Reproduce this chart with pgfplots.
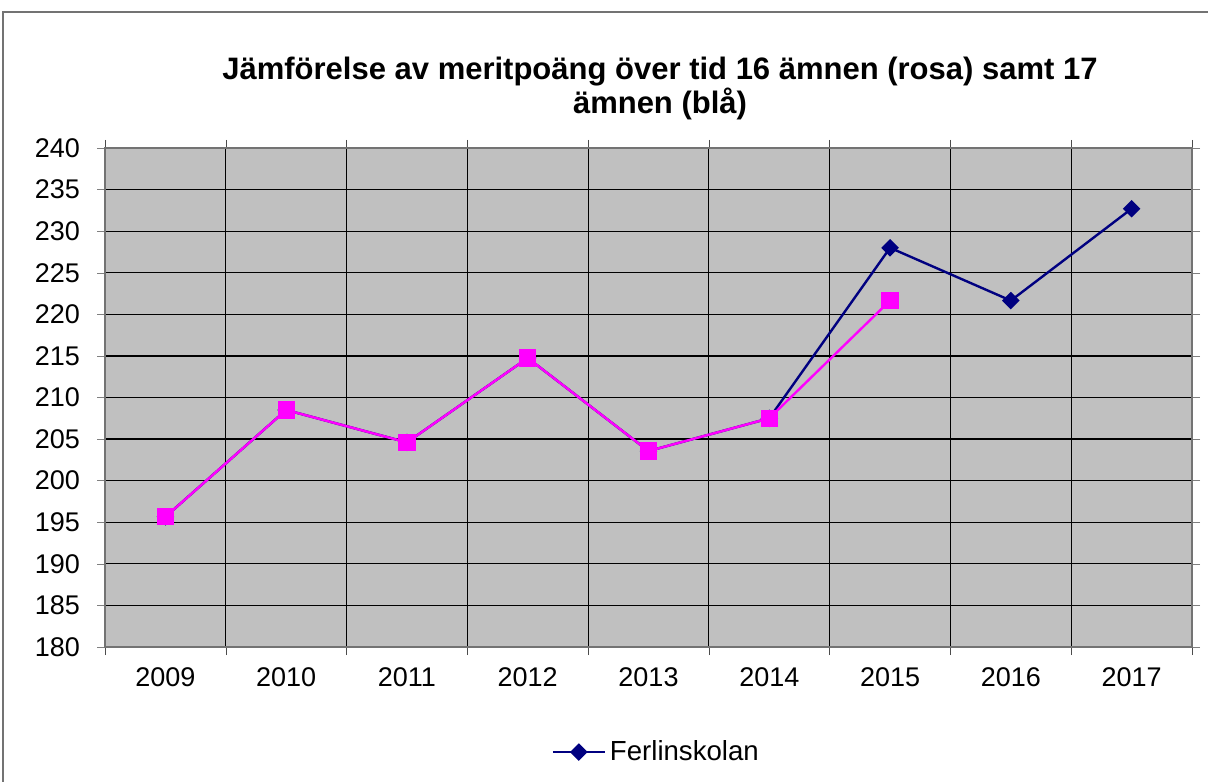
\documentclass[border=0pt]{standalone}
\usepackage{pgfplots}
\pgfplotsset{compat=1.18}
\usepackage{fontspec}
\setmainfont{Liberation Sans}
\definecolor{navyb}{HTML}{000080}
\definecolor{pinkm}{HTML}{FF00FF}
\definecolor{plotbg}{HTML}{C0C0C0}
\begin{document}
\begin{tikzpicture}[x=0.5pt,y=0.5pt]
\begin{scope}
\clip (0,0) rectangle (1208,781);
\draw[color=black!55, line width=1pt] (3,769) rectangle (1220,-20);
\end{scope}
\node[font=\fontsize{15.5pt}{17pt}\selectfont\bfseries, align=center] at (660,693) {Jämförelse av meritpoäng över tid 16 ämnen (rosa) samt 17\\ämnen (blå)};
\begin{axis}[
  at={(52.5pt,67pt)}, anchor=south west,
  scale only axis, width=543.5pt, height=249.5pt,
  xmin=-0.5, xmax=8.5, ymin=180, ymax=240,
  xtick={0,...,8},
  xticklabels={2009,2010,2011,2012,2013,2014,2015,2016,2017},
  minor xtick={-0.5,0.5,...,8.5},
  ytick={180,185,...,240},
  major x tick style={draw=none},
  minor x tick style={draw=black!70},
  tick align=outside,
  major tick length=4pt, minor tick length=4pt,
  xmajorgrids=false, xminorgrids=true, ymajorgrids=true,
  grid style={black, line width=0.6pt},
  minor grid style={black, line width=0.6pt},
  axis line style={draw=black!55, line width=0.8pt},
  axis background/.style={fill=plotbg},
  tick label style={font=\fontsize{13.5pt}{16pt}\selectfont},
  yticklabel style={xshift=-5pt},
  xticklabel style={yshift=-3pt},
  /pgf/number format/assume math mode=true,
  legend style={at={(0.508,-0.2105)}, anchor=center, draw=none, fill=none, font=\fontsize{13.8pt}{16pt}\selectfont},
  legend cell align=left,
  legend image code/.code={
    \draw[#1, mark=none] (0pt,0pt) -- (26pt,0pt);
    \draw[#1, only marks] plot coordinates {(13pt,0pt)};
  },
  clip=false,
]
\addplot[color=navyb, line width=1.2pt, mark=square*, mark size=2.5pt, mark options={fill=navyb, rotate=45, solid}] coordinates {
(0,195.65) (1,208.5) (2,204.6) (3,214.75) (4,203.56) (5,207.5) (6,228.0) (7,221.65) (8,232.7)};
\addlegendentry{Ferlinskolan}
\addplot[color=pinkm, line width=1.2pt, mark=square*, mark size=3.7pt, mark options={fill=pinkm}, forget plot] coordinates {
(0,195.65) (1,208.5) (2,204.6) (3,214.75) (4,203.56) (5,207.5) (6,221.65)};
\end{axis}
\pgfresetboundingbox
\useasboundingbox (0,0) rectangle (1208,781);
\end{tikzpicture}
\end{document}
